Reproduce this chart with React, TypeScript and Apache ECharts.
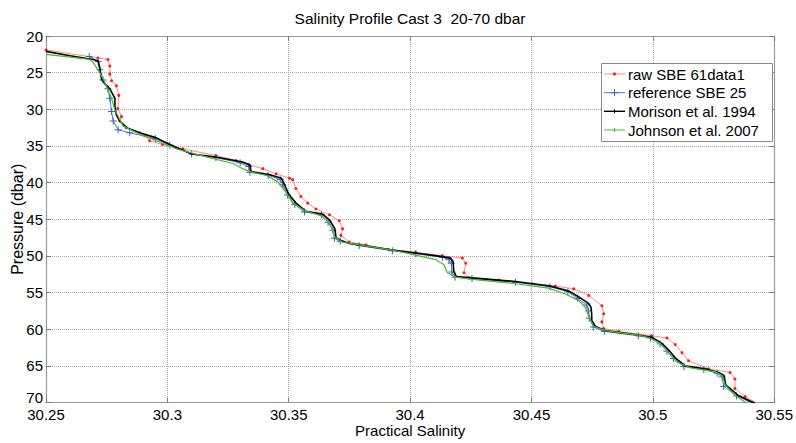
import React, { useEffect, useRef } from "react";
import * as echarts from "echarts";

const chartTitle = "Salinity Profile Cast 3  20-70 dbar";
const xName = "Practical Salinity";
const yName = "Pressure (dbar)";
const seriesNames = ["raw SBE 61data1", "reference SBE 25", "Morison et al. 1994", "Johnson et al. 2007"];
const seriesColors = ["#ff1a1a", "#3d5fc4", "#000000", "#46bb2c"];

// raw SBE 61 (red dots)
const rawPres = [21.9, 23.0, 23.2, 24.1, 25.2, 26.1, 26.8, 28.1, 29.9, 31.0, 31.6, 32.5, 33.2, 33.6, 34.3, 34.8, 35.4, 36.3, 37.0, 37.6, 38.1, 38.8, 39.4, 39.6, 40.8, 41.9, 42.8, 43.6, 44.4, 45.2, 46.3, 47.2, 48.1, 48.5, 49.1, 49.5, 50.0, 50.3, 51.0, 52.3, 53.0, 53.3, 53.8, 54.1, 54.5, 55.4, 56.8, 57.9, 59.0, 59.9, 60.3, 60.9, 61.2, 62.1, 63.2, 64.3, 65.4, 65.9, 66.8, 68.1, 69.2, 70.1];
const rawSal = [30.25, 30.2714, 30.2755, 30.2763, 30.2763, 30.277, 30.279, 30.28, 30.2796, 30.2811, 30.2804, 30.283, 30.2886, 30.2907, 30.2927, 30.298, 30.3064, 30.32, 30.3283, 30.3338, 30.3393, 30.3448, 30.3503, 30.3516, 30.353, 30.355, 30.3578, 30.3612, 30.3668, 30.3708, 30.3722, 30.3715, 30.3749, 30.3818, 30.391, 30.4023, 30.4133, 30.4215, 30.4229, 30.4222, 30.4242, 30.4366, 30.4503, 30.4598, 30.4674, 30.4736, 30.479, 30.4797, 30.479, 30.4797, 30.4859, 30.4996, 30.5058, 30.5092, 30.512, 30.5147, 30.5229, 30.5318, 30.5338, 30.5338, 30.538, 30.543];

// reference SBE 25 (blue +)
const refPres = [22.8, 23.5, 24.6, 26.0, 27.2, 28.5, 30.3, 31.6, 32.8, 33.2, 34.0, 34.9, 36.1, 36.6, 37.3, 37.8, 38.6, 39.0, 39.6, 40.3, 41.7, 43.0, 44.0, 44.4, 45.4, 46.5, 47.6, 48.0, 48.6, 49.3, 49.7, 50.2, 50.5, 51.0, 52.2, 52.9, 53.1, 53.6, 54.2, 54.9, 55.8, 56.7, 57.5, 58.5, 59.7, 60.3, 60.9, 61.2, 62.0, 63.0, 64.0, 65.1, 65.5, 66.0, 66.5, 67.8, 69.1, 70.1];
const refSal = [30.2678, 30.2715, 30.2722, 30.2735, 30.2755, 30.2763, 30.277, 30.2777, 30.2797, 30.2845, 30.295, 30.301, 30.31, 30.32, 30.33, 30.3335, 30.334, 30.3415, 30.3465, 30.3475, 30.3495, 30.3525, 30.3565, 30.3635, 30.3662, 30.3682, 30.3688, 30.3712, 30.379, 30.3927, 30.4023, 30.4133, 30.416, 30.417, 30.4172, 30.4185, 30.4255, 30.4434, 30.4576, 30.465, 30.469, 30.4728, 30.4735, 30.4738, 30.4755, 30.48, 30.494, 30.499, 30.503, 30.5058, 30.5085, 30.5128, 30.521, 30.5265, 30.5285, 30.5292, 30.5345, 30.541];

// Morison et al. 1994 (black)
const morPres = [22.1, 22.7, 23.2, 23.4, 24.5, 25.9, 26.5, 27.2, 28.5, 29.6, 30.8, 31.6, 32.5, 33.2, 33.9, 34.8, 36.1, 36.5, 37.2, 37.6, 38.5, 38.9, 39.4, 40.1, 41.6, 42.8, 43.9, 44.3, 45.2, 46.3, 47.5, 47.9, 48.3, 48.5, 49.2, 49.6, 50.1, 50.3, 50.8, 52.1, 52.8, 53.0, 53.5, 54.1, 54.8, 55.6, 56.5, 57.0, 57.9, 58.8, 59.6, 60.2, 60.8, 61.1, 61.9, 62.8, 63.9, 65.0, 65.4, 65.9, 66.3, 67.6, 69.0, 70.1];
const morSal = [30.25, 30.2599, 30.2694, 30.2715, 30.2722, 30.2729, 30.2742, 30.2763, 30.2784, 30.2784, 30.279, 30.2804, 30.2832, 30.2886, 30.2955, 30.301, 30.31, 30.32, 30.331, 30.334, 30.3345, 30.342, 30.347, 30.348, 30.35, 30.353, 30.357, 30.364, 30.367, 30.369, 30.3695, 30.3715, 30.375, 30.379, 30.3927, 30.4023, 30.4133, 30.4167, 30.4177, 30.418, 30.419, 30.4255, 30.4434, 30.4576, 30.4654, 30.4695, 30.4736, 30.4745, 30.4748, 30.4748, 30.4763, 30.4804, 30.494, 30.4995, 30.5036, 30.5064, 30.5092, 30.5133, 30.5215, 30.527, 30.5293, 30.53, 30.535, 30.542];

// Johnson et al. 2007 (green)
const johPres = [22.5, 23.2, 23.6, 25.0, 26.3, 28.5, 30.1, 31.4, 32.3, 33.2, 34.1, 35.0, 35.4, 36.5, 37.4, 38.1, 38.5, 39.0, 39.9, 41.4, 42.8, 43.9, 44.5, 45.6, 47.4, 48.1, 48.5, 49.2, 49.9, 50.5, 51.2, 52.3, 52.9, 53.2, 53.8, 54.4, 55.2, 56.1, 57.0, 58.3, 59.6, 60.2, 60.8, 61.1, 61.9, 63.2, 64.5, 65.3, 65.8, 66.3, 67.6, 69.0, 70.1];
const johSal = [30.25, 30.268, 30.2694, 30.2722, 30.2742, 30.277, 30.2784, 30.2804, 30.2818, 30.2873, 30.294, 30.301, 30.3037, 30.316, 30.327, 30.331, 30.334, 30.3407, 30.3455, 30.349, 30.3516, 30.357, 30.3633, 30.367, 30.369, 30.372, 30.379, 30.3927, 30.4023, 30.4105, 30.414, 30.4153, 30.4188, 30.4256, 30.4434, 30.457, 30.464, 30.4695, 30.4722, 30.4736, 30.4756, 30.4804, 30.494, 30.4979, 30.503, 30.5064, 30.5099, 30.516, 30.5256, 30.5284, 30.5298, 30.5338, 30.5387];

const xMin = 30.25, xMax = 30.55, xStep = 0.05;
const yMin = 20, yMax = 70, yStep = 5;

function zip(s: number[], p: number[]) {
  return s.map((v, i) => [v, p[i]]);
}

const FONT = "Liberation Sans";

function legendGraphics() {
  const els: any[] = [];
  const boxX = 601, boxY = 63, boxW = 171, boxH = 78;
  els.push({
    type: "rect", z: 100,
    shape: { x: boxX + 0.5, y: boxY + 0.5, width: boxW, height: boxH },
    style: { fill: "#fff", stroke: "#8a8a8a", lineWidth: 1 },
  });
  const rows = [74, 92.7, 111.3, 130];
  const lineColors = ["#ff8a8a", "#5874c8", "#000000", "#46bb2c"];
  rows.forEach((cy, i) => {
    els.push({
      type: "line", z: 101,
      shape: { x1: 604, y1: cy, x2: 625, y2: cy },
      style: { stroke: lineColors[i], lineWidth: i === 2 ? 1.4 : 1 },
    });
    if (i === 0) {
      els.push({ type: "circle", z: 102, shape: { cx: 614.5, cy, r: 1.6 }, style: { fill: seriesColors[0] } });
    } else if (i === 1) {
      els.push({ type: "line", z: 102, shape: { x1: 611, y1: cy, x2: 618, y2: cy }, style: { stroke: seriesColors[1], lineWidth: 1 } });
      els.push({ type: "line", z: 102, shape: { x1: 614.5, y1: cy - 3.5, x2: 614.5, y2: cy + 3.5 }, style: { stroke: seriesColors[1], lineWidth: 1 } });
    } else {
      els.push({ type: "line", z: 102, shape: { x1: 614.5, y1: cy - 2, x2: 614.5, y2: cy + 2 }, style: { stroke: seriesColors[i], lineWidth: 1 } });
    }
    els.push({
      type: "text", z: 103, x: 628, y: cy,
      style: { text: seriesNames[i], fill: "#000", fontSize: 15, fontFamily: FONT, align: "left", verticalAlign: "middle" },
    });
  });
  return els;
}

export default function App() {
  const ref = useRef<HTMLDivElement>(null);
  useEffect(() => {
    const chart = echarts.init(ref.current!, null, { renderer: "svg" });
    const axisLine = { show: true, onZero: false, lineStyle: { color: "#9a9a9a", width: 1.2 } };
    const axisTick = { show: true, inside: true, length: 5, lineStyle: { color: "#7a7a7a" } };
    const splitLine = { show: true, lineStyle: { type: "dotted", color: "#a8a8a8", width: 1 } };
    const label = { color: "#000", fontSize: 15, fontFamily: FONT };
    const fmtX = (v: number) => String(parseFloat(v.toFixed(2)));
    const fmtY = (v: number) => (v === yMax ? "{last|" + v + "}" : String(v));
    chart.setOption({
      animation: false,
      backgroundColor: "#fff",
      title: {
        text: chartTitle,
        left: 410,
        top: 10,
        padding: 0,
        textAlign: "center",
        textStyle: { fontSize: 15.5, fontWeight: "normal", color: "#000", fontFamily: FONT },
      },
      grid: { left: 46, right: 20, top: 36, bottom: 32, containLabel: false },
      xAxis: [
        {
          type: "value", position: "bottom", min: xMin, max: xMax, interval: xStep,
          axisLine, axisTick, splitLine,
          axisLabel: { ...label, margin: 6, lineHeight: 12, formatter: fmtX },
          name: xName, nameLocation: "middle", nameGap: 22, nameMoveOverlap: false,
          nameTextStyle: { ...label, lineHeight: 12 },
        },
        {
          type: "value", position: "top", min: xMin, max: xMax, interval: xStep,
          axisLine, axisTick, splitLine: { show: false }, axisLabel: { show: false },
        },
      ],
      yAxis: [
        {
          type: "value", position: "left", inverse: true, min: yMin, max: yMax, interval: yStep,
          axisLine, axisTick, splitLine,
          axisLabel: {
            ...label, margin: 3, lineHeight: 12, formatter: fmtY,
            rich: { last: { ...label, lineHeight: 12, padding: [0, 0, 10, 0] } },
          },
          name: yName, nameLocation: "middle", nameGap: 21, nameMoveOverlap: false,
          nameTextStyle: { ...label, fontSize: 16 },
        },
        {
          type: "value", position: "right", inverse: true, min: yMin, max: yMax, interval: yStep,
          axisLine, axisTick, splitLine: { show: false }, axisLabel: { show: false },
        },
      ],
      graphic: { elements: legendGraphics() },
      series: [
        {
          name: seriesNames[0], type: "line", data: zip(rawSal, rawPres),
          symbol: "circle", symbolSize: 3, showSymbol: true,
          lineStyle: { color: "#ff8a8a", width: 1 },
          itemStyle: { color: seriesColors[0], borderWidth: 0 },
          z: 2,
        },
        {
          name: seriesNames[1], type: "line", data: zip(refSal, refPres),
          symbol: "path://M0,5L10,5M5,0L5,10", symbolSize: 7, showSymbol: true,
          lineStyle: { color: "#5874c8", width: 1 },
          itemStyle: { color: seriesColors[1], borderColor: seriesColors[1], borderWidth: 1 },
          z: 3,
        },
        {
          name: seriesNames[2], type: "line", data: zip(morSal, morPres),
          symbol: "none",
          lineStyle: { color: seriesColors[2], width: 1.6 },
          itemStyle: { color: seriesColors[2] },
          z: 4,
        },
        {
          name: seriesNames[3], type: "line", data: zip(johSal, johPres),
          symbol: "none",
          lineStyle: { color: seriesColors[3], width: 1.2 },
          itemStyle: { color: seriesColors[3] },
          z: 5,
        },
      ],
    });
    return () => chart.dispose();
  }, []);
  return (
    <div
      ref={ref}
      style={{ position: "fixed", left: 0, top: 0, width: 796, height: 443, background: "#fff" }}
    />
  );
}
